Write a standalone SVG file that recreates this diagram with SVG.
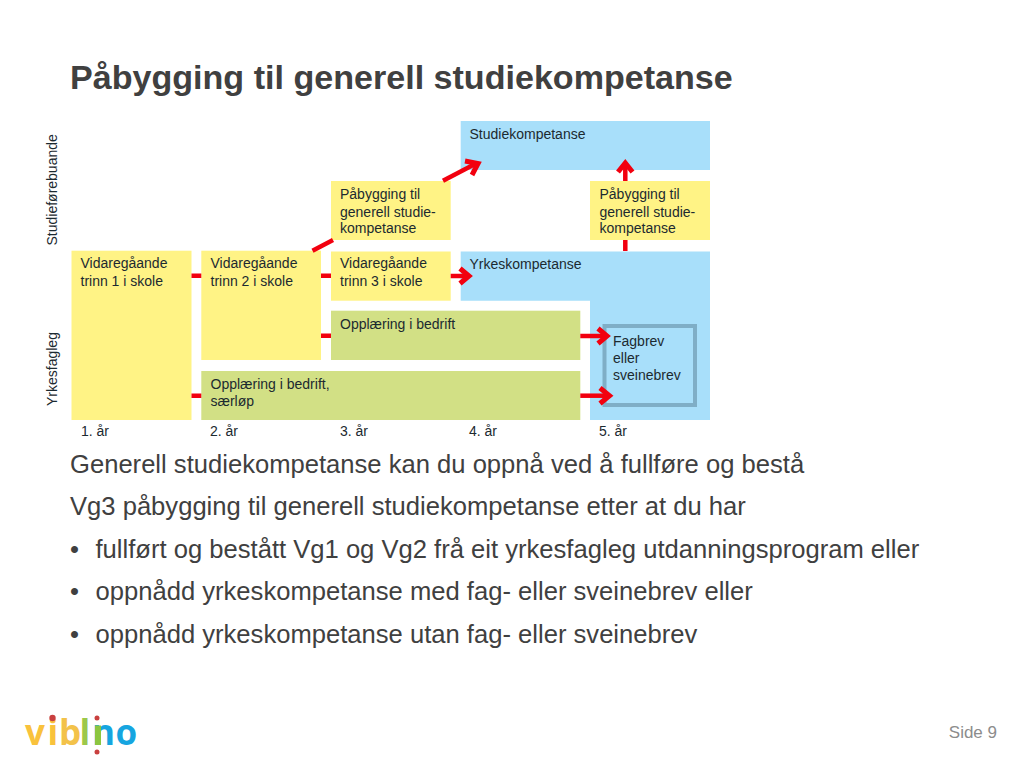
<svg xmlns="http://www.w3.org/2000/svg" width="1024" height="768" viewBox="0 0 1024 768">
<style>
text{font-family:"Liberation Sans",Arial,sans-serif}
.y{fill:#FFF385}.g{fill:#D2E085}.b{fill:#A8DFFA}
.t{font-size:14px;fill:#1c2a30}
.a{font-size:14px;fill:#1c2a30}
.body{font-size:25.6px;fill:#404040}
.c{fill:none;stroke:#F2000F;stroke-width:4.500}
.h{fill:none;stroke:#F2000F;stroke-width:5}
</style>
<rect width="1024" height="768" fill="#fff"/>
<text x="70" y="89" font-size="34.100" font-weight="700" fill="#404040">Påbygging til generell studiekompetanse</text>
<g id="axis">
<text class="t" transform="translate(57 245.500) rotate(-90)">Studieførebuande</text>
<text class="t" transform="translate(57 406) rotate(-90)">Yrkesfagleg</text>
<text class="a" x="81" y="435.500">1. år</text>
<text class="a" x="210" y="435.500">2. år</text>
<text class="a" x="340" y="435.500">3. år</text>
<text class="a" x="469" y="435.500">4. år</text>
<text class="a" x="599" y="435.500">5. år</text>
</g>
<g id="n-trinn1"><rect class="y" x="71.500" y="250.700" width="120" height="169.300"/><text class="t" x="80.500" y="268">Vidaregåande</text><text class="t" x="80.500" y="285.500">trinn 1 i skole</text></g>
<g id="n-trinn2"><rect class="y" x="201.300" y="250.700" width="119.700" height="109.300"/><text class="t" x="210.500" y="268">Vidaregåande</text><text class="t" x="210.500" y="285.500">trinn 2 i skole</text></g>
<g id="n-saerlop"><rect class="g" x="201.300" y="371" width="379" height="49"/><text class="t" x="210.500" y="389">Opplæring i bedrift,</text><text class="t" x="210.500" y="406">særløp</text></g>
<g id="n-trinn3"><rect class="y" x="331" y="251.500" width="119.700" height="49.200"/><text class="t" x="340" y="268">Vidaregåande</text><text class="t" x="340" y="285.500">trinn 3 i skole</text></g>
<g id="n-bedrift"><rect class="g" x="331" y="310.700" width="249.300" height="49.300"/><text class="t" x="340" y="329">Opplæring i bedrift</text></g>
<g id="n-pab1"><rect class="y" x="331" y="181" width="119.700" height="59"/><text class="t" x="340" y="199">Påbygging til</text><text class="t" x="340" y="216.500">generell studie-</text><text class="t" x="340" y="233">kompetanse</text></g>
<g id="n-pab2"><rect class="y" x="590" y="181" width="120" height="59"/><text class="t" x="599.500" y="199">Påbygging til</text><text class="t" x="599.500" y="216.500">generell studie-</text><text class="t" x="599.500" y="233">kompetanse</text></g>
<g id="n-studie"><rect class="b" x="460.700" y="121" width="249.300" height="49"/><text class="t" x="469.500" y="139">Studiekompetanse</text></g>
<g id="n-yrke"><path class="b" d="M460.700 251.500H710V420H590V300.700H460.700Z"/><text class="t" x="469.500" y="268.500">Yrkeskompetanse</text></g>
<g id="n-fagbrev"><rect x="604.500" y="326" width="90.500" height="79" fill="none" stroke="#7FAEC6" stroke-width="4"/><text class="t" x="613" y="346">Fagbrev</text><text class="t" x="613" y="363">eller</text><text class="t" x="613" y="380">sveinebrev</text></g>
<g id="connectors">
<path class="c" d="M191.500 275.700H201.300M191.500 395.700H201.300M321 275.700H331M321 335.700H331M312.500 250.700L333 240"/>
<path class="c" d="M443 180.700L476 163.500"/>
<path class="h" d="M465 161L478 163.500L472 175"/>
<path class="c" d="M625.300 251V240M625.300 181V164"/>
<path class="h" d="M618 172L625.300 163L632.500 172"/>
<path class="c" d="M450.700 276H468"/>
<path class="h" d="M460 268.500L469 276L460 283.500"/>
<path class="c" d="M580.300 336H606"/>
<path class="h" d="M598 328.500L607 336L598 343.500"/>
<path class="c" d="M580.300 395.700H609"/>
<path class="h" d="M600 388L609.500 395.700L600 403.500"/>
</g>
<g id="body">
<text class="body" x="70" y="473">Generell studiekompetanse kan du oppnå ved å fullføre og bestå</text>
<text class="body" x="70" y="515">Vg3 påbygging til generell studiekompetanse etter at du har</text>
<text class="body" x="70" y="558">•</text><text class="body" x="95.500" y="558">fullført og bestått Vg1 og Vg2 frå eit yrkesfagleg utdanningsprogram eller</text>
<text class="body" x="70" y="600">•</text><text class="body" x="95.500" y="600">oppnådd yrkeskompetanse med fag- eller sveinebrev eller</text>
<text class="body" x="70" y="643">•</text><text class="body" x="95.500" y="643">oppnådd yrkeskompetanse utan fag- eller sveinebrev</text>
</g>
<g id="logo">
<text y="745" font-size="35" style="font-family:'Open Sans','Noto Sans',sans-serif" font-weight="700"><tspan x="25" fill="#F9C23C">v</tspan><tspan x="47.500" fill="#F9C23C">i</tspan><tspan x="59" fill="#F3C24A">b</tspan><tspan x="79.500" fill="#9CC84B">l</tspan><tspan x="92" fill="#16A5E0">n</tspan><tspan x="115.500" fill="#16A5E0">o</tspan></text>
<rect x="95" y="725.500" width="6" height="19.500" fill="#8CC540"/>
<circle cx="52.500" cy="718" r="3.200" fill="#C9403F"/><circle cx="97" cy="718" r="2.500" fill="#C9403F"/><circle cx="97" cy="752" r="2.500" fill="#C9403F"/>
</g>
<text x="997" y="738" text-anchor="end" font-size="17" fill="#8c8c8c">Side 9</text>
</svg>
